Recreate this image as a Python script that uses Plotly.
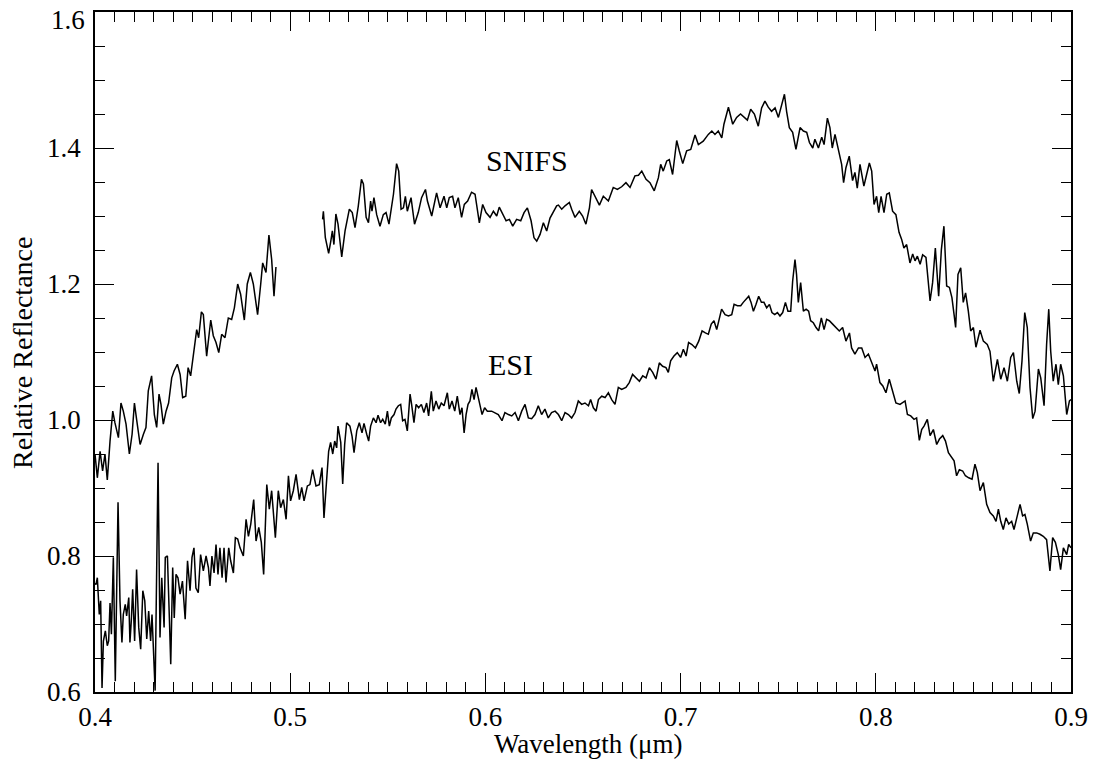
import plotly.graph_objects as go

# SNIFS spectrum, blue segment (wavelength um, relative reflectance)
snifs_blue = [
    (0.4000, 0.950), (0.4012, 0.915), (0.4026, 0.954), (0.4039, 0.925), (0.4051, 0.950),
    (0.4063, 0.912), (0.4077, 0.969), (0.4091, 1.013), (0.4102, 0.996), (0.4120, 0.974),
    (0.4133, 1.025), (0.4145, 1.013), (0.4159, 0.994), (0.4176, 0.950), (0.4190, 0.979),
    (0.4202, 1.025), (0.4214, 0.999), (0.4231, 0.964), (0.4248, 0.979), (0.4261, 0.989),
    (0.4273, 1.043), (0.4290, 1.065), (0.4304, 1.008), (0.4316, 0.989), (0.4328, 1.038),
    (0.4338, 1.023), (0.4350, 0.994), (0.4364, 1.013), (0.4377, 1.025), (0.4393, 1.062),
    (0.4405, 1.072), (0.4422, 1.082), (0.4436, 1.067), (0.4449, 1.033), (0.4465, 1.035),
    (0.4477, 1.077), (0.4490, 1.065), (0.4507, 1.104), (0.4521, 1.133), (0.4531, 1.121),
    (0.4545, 1.159), (0.4555, 1.155), (0.4572, 1.094), (0.4593, 1.147), (0.4606, 1.124),
    (0.4620, 1.114), (0.4634, 1.099), (0.4649, 1.126), (0.4666, 1.121), (0.4683, 1.150),
    (0.4700, 1.148), (0.4714, 1.165), (0.4731, 1.200), (0.4746, 1.185), (0.4765, 1.147),
    (0.4780, 1.200), (0.4796, 1.217), (0.4811, 1.200), (0.4833, 1.155), (0.4849, 1.200),
    (0.4859, 1.231), (0.4876, 1.217), (0.4891, 1.272), (0.4905, 1.236), (0.4917, 1.182),
    (0.4927, 1.225),
]

# SNIFS spectrum, red segment
snifs_red = [
    (0.5166, 1.295), (0.5170, 1.307), (0.5180, 1.268), (0.5197, 1.245), (0.5208, 1.263),
    (0.5216, 1.278), (0.5224, 1.258), (0.5234, 1.303), (0.5245, 1.288), (0.5264, 1.240),
    (0.5281, 1.278), (0.5303, 1.310), (0.5318, 1.305), (0.5332, 1.283), (0.5349, 1.315),
    (0.5365, 1.354), (0.5375, 1.347), (0.5389, 1.298), (0.5401, 1.290), (0.5412, 1.322),
    (0.5419, 1.307), (0.5429, 1.327), (0.5443, 1.302), (0.5460, 1.285), (0.5477, 1.302),
    (0.5491, 1.305), (0.5506, 1.288), (0.5529, 1.332), (0.5545, 1.377), (0.5556, 1.366),
    (0.5568, 1.310), (0.5580, 1.312), (0.5590, 1.329), (0.5600, 1.307), (0.5619, 1.327),
    (0.5637, 1.288), (0.5656, 1.305), (0.5673, 1.327), (0.5693, 1.339), (0.5703, 1.322),
    (0.5725, 1.300), (0.5750, 1.334), (0.5768, 1.312), (0.5788, 1.329), (0.5802, 1.312),
    (0.5815, 1.327), (0.5832, 1.329), (0.5844, 1.312), (0.5861, 1.327), (0.5878, 1.298),
    (0.5892, 1.317), (0.5909, 1.322), (0.5929, 1.335), (0.5947, 1.332), (0.5969, 1.290),
    (0.5986, 1.317), (0.6003, 1.305), (0.6024, 1.298), (0.6041, 1.307), (0.6058, 1.300),
    (0.6071, 1.313), (0.6089, 1.302), (0.6106, 1.293), (0.6123, 1.295), (0.6140, 1.285),
    (0.6160, 1.295), (0.6181, 1.293), (0.6198, 1.305), (0.6215, 1.312), (0.6234, 1.293),
    (0.6249, 1.268), (0.6263, 1.263), (0.6280, 1.273), (0.6297, 1.290), (0.6314, 1.278),
    (0.6331, 1.297), (0.6348, 1.307), (0.6365, 1.315), (0.6374, 1.316), (0.6391, 1.310),
    (0.6408, 1.315), (0.6430, 1.320), (0.6442, 1.310), (0.6459, 1.298), (0.6481, 1.307),
    (0.6498, 1.300), (0.6515, 1.288), (0.6533, 1.312), (0.6544, 1.339), (0.6561, 1.329),
    (0.6584, 1.316), (0.6604, 1.329), (0.6630, 1.322), (0.6655, 1.342), (0.6676, 1.339),
    (0.6698, 1.343), (0.6720, 1.349), (0.6741, 1.342), (0.6766, 1.359), (0.6784, 1.360),
    (0.6801, 1.366), (0.6823, 1.354), (0.6843, 1.349), (0.6865, 1.337), (0.6886, 1.356),
    (0.6898, 1.376), (0.6911, 1.366), (0.6929, 1.381), (0.6942, 1.383), (0.6959, 1.361),
    (0.6980, 1.411), (0.6993, 1.396), (0.7011, 1.377), (0.7031, 1.396), (0.7052, 1.398),
    (0.7074, 1.419), (0.7091, 1.405), (0.7116, 1.410), (0.7142, 1.420), (0.7160, 1.425),
    (0.7176, 1.420), (0.7193, 1.425), (0.7211, 1.415), (0.7222, 1.435), (0.7245, 1.460),
    (0.7267, 1.435), (0.7287, 1.445), (0.7307, 1.450), (0.7325, 1.445), (0.7342, 1.441),
    (0.7359, 1.457), (0.7378, 1.450), (0.7398, 1.432), (0.7415, 1.459), (0.7432, 1.469),
    (0.7449, 1.460), (0.7466, 1.454), (0.7484, 1.459), (0.7501, 1.445), (0.7518, 1.462),
    (0.7532, 1.479), (0.7543, 1.454), (0.7557, 1.430), (0.7574, 1.423), (0.7591, 1.398),
    (0.7612, 1.430), (0.7629, 1.425), (0.7646, 1.423), (0.7660, 1.408), (0.7677, 1.400),
    (0.7688, 1.413), (0.7706, 1.400), (0.7723, 1.416), (0.7735, 1.405), (0.7752, 1.444),
    (0.7765, 1.430), (0.7777, 1.400), (0.7791, 1.420), (0.7808, 1.398), (0.7825, 1.376),
    (0.7835, 1.349), (0.7847, 1.371), (0.7864, 1.388), (0.7881, 1.352), (0.7893, 1.364),
    (0.7905, 1.341), (0.7919, 1.376), (0.7939, 1.344), (0.7953, 1.361), (0.7967, 1.378),
    (0.7979, 1.366), (0.7991, 1.317), (0.8004, 1.329), (0.8015, 1.305), (0.8027, 1.329),
    (0.8042, 1.305), (0.8056, 1.332), (0.8069, 1.334), (0.8086, 1.307), (0.8103, 1.302),
    (0.8119, 1.276), (0.8132, 1.266), (0.8144, 1.253), (0.8158, 1.258), (0.8175, 1.231),
    (0.8189, 1.244), (0.8201, 1.234), (0.8213, 1.241), (0.8227, 1.229), (0.8240, 1.243),
    (0.8257, 1.239), (0.8278, 1.175), (0.8291, 1.202), (0.8305, 1.253), (0.8322, 1.182),
    (0.8336, 1.251), (0.8349, 1.285), (0.8363, 1.197), (0.8377, 1.195), (0.8390, 1.180),
    (0.8401, 1.155), (0.8409, 1.136), (0.8421, 1.214), (0.8435, 1.224), (0.8448, 1.173),
    (0.8460, 1.187), (0.8474, 1.160), (0.8486, 1.131), (0.8500, 1.136), (0.8513, 1.107),
    (0.8534, 1.132), (0.8551, 1.116), (0.8571, 1.111), (0.8585, 1.101), (0.8602, 1.057),
    (0.8623, 1.089), (0.8640, 1.060), (0.8657, 1.077), (0.8674, 1.057), (0.8691, 1.092),
    (0.8705, 1.099), (0.8722, 1.057), (0.8735, 1.039), (0.8749, 1.087), (0.8763, 1.158),
    (0.8776, 1.136), (0.8790, 1.048), (0.8804, 1.002), (0.8816, 1.013), (0.8833, 1.075),
    (0.8845, 1.062), (0.8862, 1.021), (0.8875, 1.111), (0.8886, 1.163), (0.8896, 1.101),
    (0.8909, 1.057), (0.8923, 1.082), (0.8935, 1.052), (0.8947, 1.082), (0.8961, 1.065),
    (0.8978, 1.008), (0.8992, 1.028), (0.9000, 1.030),
]

# ESI spectrum
esi = [
    (0.4000, 0.760), (0.4005, 0.758), (0.4012, 0.768), (0.4022, 0.714), (0.4029, 0.734),
    (0.4036, 0.606), (0.4043, 0.675), (0.4053, 0.690), (0.4063, 0.668), (0.4070, 0.675),
    (0.4077, 0.731), (0.4084, 0.685), (0.4094, 0.798), (0.4104, 0.616), (0.4118, 0.879),
    (0.4128, 0.734), (0.4138, 0.673), (0.4145, 0.714), (0.4155, 0.729), (0.4162, 0.712),
    (0.4173, 0.739), (0.4179, 0.673), (0.4186, 0.705), (0.4193, 0.751), (0.4203, 0.675),
    (0.4213, 0.780), (0.4224, 0.695), (0.4234, 0.663), (0.4245, 0.749), (0.4255, 0.734),
    (0.4265, 0.678), (0.4275, 0.719), (0.4285, 0.675), (0.4292, 0.714), (0.4299, 0.665),
    (0.4308, 0.602), (0.4323, 0.937), (0.4333, 0.680), (0.4342, 0.768), (0.4354, 0.695),
    (0.4360, 0.798), (0.4371, 0.800), (0.4381, 0.709), (0.4388, 0.641), (0.4398, 0.783),
    (0.4406, 0.709), (0.4415, 0.773), (0.4425, 0.768), (0.4436, 0.744), (0.4448, 0.763),
    (0.4462, 0.707), (0.4474, 0.793), (0.4487, 0.749), (0.4497, 0.798), (0.4507, 0.812),
    (0.4517, 0.753), (0.4529, 0.746), (0.4541, 0.802), (0.4555, 0.778), (0.4569, 0.800),
    (0.4581, 0.783), (0.4589, 0.756), (0.4599, 0.800), (0.4610, 0.775), (0.4620, 0.817),
    (0.4630, 0.773), (0.4640, 0.812), (0.4651, 0.768), (0.4661, 0.812), (0.4671, 0.761),
    (0.4685, 0.812), (0.4695, 0.793), (0.4709, 0.775), (0.4719, 0.827), (0.4731, 0.825),
    (0.4743, 0.812), (0.4760, 0.800), (0.4774, 0.854), (0.4786, 0.829), (0.4798, 0.847),
    (0.4813, 0.883), (0.4825, 0.822), (0.4839, 0.842), (0.4852, 0.820), (0.4864, 0.773),
    (0.4880, 0.905), (0.4893, 0.869), (0.4905, 0.896), (0.4924, 0.827), (0.4939, 0.896),
    (0.4951, 0.871), (0.4965, 0.883), (0.4979, 0.854), (0.4991, 0.918), (0.5002, 0.881),
    (0.5016, 0.896), (0.5030, 0.920), (0.5047, 0.883), (0.5059, 0.901), (0.5071, 0.881),
    (0.5088, 0.903), (0.5101, 0.905), (0.5115, 0.927), (0.5132, 0.903), (0.5149, 0.905),
    (0.5163, 0.930), (0.5173, 0.856), (0.5187, 0.915), (0.5197, 0.954), (0.5207, 0.967),
    (0.5218, 0.950), (0.5228, 0.969), (0.5238, 0.959), (0.5245, 0.991), (0.5259, 0.967),
    (0.5269, 0.906), (0.5279, 0.964), (0.5289, 0.996), (0.5306, 0.991), (0.5317, 0.976),
    (0.5327, 0.952), (0.5341, 0.984), (0.5354, 0.996), (0.5368, 0.981), (0.5378, 0.995),
    (0.5392, 0.979), (0.5402, 0.969), (0.5412, 0.991), (0.5426, 1.003), (0.5440, 0.996),
    (0.5450, 1.007), (0.5463, 0.996), (0.5474, 1.001), (0.5487, 0.994), (0.5498, 1.013),
    (0.5508, 0.991), (0.5518, 1.003), (0.5532, 1.008), (0.5542, 1.016), (0.5554, 1.021),
    (0.5566, 1.023), (0.5576, 0.999), (0.5588, 1.001), (0.5600, 0.984), (0.5614, 1.038),
    (0.5622, 1.023), (0.5634, 0.996), (0.5645, 1.023), (0.5658, 1.018), (0.5672, 1.023),
    (0.5685, 1.011), (0.5699, 1.025), (0.5709, 1.006), (0.5723, 1.042), (0.5733, 1.013),
    (0.5747, 1.028), (0.5761, 1.016), (0.5774, 1.025), (0.5788, 1.021), (0.5805, 1.040),
    (0.5815, 1.016), (0.5829, 1.028), (0.5843, 1.013), (0.5856, 1.035), (0.5870, 1.008),
    (0.5880, 1.018), (0.5891, 0.981), (0.5901, 1.008), (0.5911, 1.023), (0.5921, 1.028),
    (0.5931, 1.045), (0.5942, 1.030), (0.5952, 1.048), (0.5962, 1.035), (0.5972, 1.021),
    (0.5983, 1.008), (0.5996, 1.018), (0.6010, 1.013), (0.6032, 1.013), (0.6049, 1.011),
    (0.6066, 1.008), (0.6085, 0.999), (0.6100, 1.011), (0.6118, 1.008), (0.6135, 1.006),
    (0.6152, 1.011), (0.6169, 0.999), (0.6186, 1.013), (0.6203, 1.023), (0.6220, 1.003),
    (0.6237, 1.002), (0.6254, 1.008), (0.6271, 1.021), (0.6288, 1.008), (0.6305, 1.016),
    (0.6322, 1.003), (0.6339, 1.011), (0.6357, 1.013), (0.6374, 1.008), (0.6391, 0.999),
    (0.6408, 1.011), (0.6425, 1.008), (0.6442, 1.003), (0.6459, 1.011), (0.6476, 1.028),
    (0.6493, 1.023), (0.6510, 1.025), (0.6528, 1.021), (0.6539, 1.030), (0.6553, 1.018),
    (0.6567, 1.013), (0.6579, 1.030), (0.6596, 1.035), (0.6613, 1.033), (0.6630, 1.040),
    (0.6647, 1.030), (0.6664, 1.023), (0.6681, 1.048), (0.6698, 1.045), (0.6720, 1.048),
    (0.6737, 1.055), (0.6754, 1.067), (0.6771, 1.062), (0.6789, 1.057), (0.6806, 1.065),
    (0.6823, 1.062), (0.6840, 1.077), (0.6857, 1.070), (0.6874, 1.060), (0.6891, 1.084),
    (0.6908, 1.079), (0.6925, 1.077), (0.6937, 1.070), (0.6949, 1.087), (0.6966, 1.094),
    (0.6983, 1.099), (0.7000, 1.092), (0.7014, 1.104), (0.7028, 1.094), (0.7041, 1.114),
    (0.7058, 1.111), (0.7076, 1.106), (0.7093, 1.116), (0.7110, 1.131), (0.7127, 1.128),
    (0.7142, 1.126), (0.7157, 1.141), (0.7171, 1.146), (0.7185, 1.133), (0.7198, 1.150),
    (0.7210, 1.163), (0.7228, 1.155), (0.7245, 1.153), (0.7262, 1.155), (0.7274, 1.170),
    (0.7291, 1.168), (0.7308, 1.168), (0.7321, 1.173), (0.7335, 1.177), (0.7349, 1.182),
    (0.7361, 1.173), (0.7373, 1.160), (0.7386, 1.170), (0.7400, 1.182), (0.7414, 1.173),
    (0.7427, 1.173), (0.7441, 1.165), (0.7455, 1.170), (0.7468, 1.158), (0.7482, 1.155),
    (0.7496, 1.158), (0.7509, 1.153), (0.7523, 1.158), (0.7537, 1.173), (0.7550, 1.160),
    (0.7564, 1.160), (0.7574, 1.204), (0.7586, 1.236), (0.7594, 1.214), (0.7603, 1.173),
    (0.7615, 1.202), (0.7629, 1.160), (0.7643, 1.163), (0.7656, 1.160), (0.7666, 1.146),
    (0.7680, 1.143), (0.7694, 1.136), (0.7707, 1.131), (0.7721, 1.150), (0.7735, 1.133),
    (0.7748, 1.148), (0.7762, 1.146), (0.7779, 1.141), (0.7796, 1.136), (0.7813, 1.131),
    (0.7830, 1.136), (0.7847, 1.116), (0.7865, 1.128), (0.7876, 1.106), (0.7893, 1.097),
    (0.7911, 1.106), (0.7928, 1.106), (0.7945, 1.092), (0.7962, 1.097), (0.7979, 1.084),
    (0.7996, 1.072), (0.8004, 1.082), (0.8021, 1.055), (0.8036, 1.050), (0.8052, 1.040),
    (0.8069, 1.060), (0.8086, 1.043), (0.8103, 1.025), (0.8124, 1.023), (0.8150, 1.028),
    (0.8162, 1.008), (0.8179, 1.006), (0.8196, 1.001), (0.8209, 1.003), (0.8223, 0.970),
    (0.8235, 0.986), (0.8247, 0.991), (0.8264, 1.001), (0.8278, 0.977), (0.8295, 0.986),
    (0.8312, 0.964), (0.8326, 0.972), (0.8343, 0.977), (0.8357, 0.969), (0.8372, 0.952),
    (0.8389, 0.945), (0.8401, 0.940), (0.8414, 0.918), (0.8428, 0.927), (0.8445, 0.925),
    (0.8459, 0.918), (0.8476, 0.915), (0.8493, 0.913), (0.8508, 0.935), (0.8520, 0.923),
    (0.8534, 0.896), (0.8551, 0.908), (0.8568, 0.876), (0.8585, 0.864), (0.8602, 0.859),
    (0.8616, 0.851), (0.8628, 0.869), (0.8640, 0.851), (0.8653, 0.839), (0.8667, 0.856),
    (0.8681, 0.847), (0.8696, 0.851), (0.8708, 0.839), (0.8722, 0.856), (0.8739, 0.876),
    (0.8752, 0.859), (0.8764, 0.861), (0.8776, 0.847), (0.8793, 0.822), (0.8807, 0.834),
    (0.8824, 0.834), (0.8841, 0.832), (0.8858, 0.829), (0.8875, 0.824), (0.8892, 0.778),
    (0.8906, 0.827), (0.8920, 0.820), (0.8935, 0.802), (0.8947, 0.780), (0.8961, 0.812),
    (0.8978, 0.802), (0.8988, 0.817), (0.9000, 0.812),
]

labels = [("SNIFS", 0.6213, 1.382), ("ESI", 0.6126, 1.082)]
x_ticks = [0.4, 0.5, 0.6, 0.7, 0.8, 0.9]
y_ticks = [0.6, 0.8, 1.0, 1.2, 1.4, 1.6]

FONT = "Liberation Serif"
line = dict(color="black", width=1.5)

fig = go.Figure()
for seg in (snifs_blue, snifs_red, esi):
    xs, ys = zip(*seg)
    fig.add_trace(go.Scatter(x=list(xs), y=list(ys), mode="lines", line=line,
                             showlegend=False, hoverinfo="skip"))

for text, lx, ly in labels:
    fig.add_annotation(x=lx, y=ly, text=text, showarrow=False,
                       font=dict(family=FONT, size=30, color="black"))

axis_common = dict(
    showgrid=False, zeroline=False, showline=True, linecolor="black", linewidth=1.5,
    mirror="allticks", ticks="inside", ticklen=19, tickwidth=1.2, tickcolor="black",
    tickfont=dict(family=FONT, size=27, color="black"),
    tickmode="array",
)

fig.update_xaxes(range=[0.4, 0.9], tickvals=x_ticks, ticktext=[f"{v:.1f}" for v in x_ticks],
                 minor=dict(tick0=0.4, dtick=0.01, ticklen=10, ticks="inside",
                            tickcolor="black", tickwidth=1),
                 ticklabelstandoff=0, ticklabeloverflow="allow", **axis_common)
# top label (1.6) is drawn as an annotation, nudged down like in the reference
y_text = [f"{v:.1f}" for v in y_ticks[:-1]] + [""]
fig.update_yaxes(range=[0.6, 1.6], tickvals=y_ticks, ticktext=y_text,
                 minor=dict(tick0=0.6, dtick=0.05, ticklen=10, ticks="inside",
                            tickcolor="black", tickwidth=1),
                 ticklabelstandoff=7, **axis_common)
fig.add_annotation(xref="paper", yref="paper", x=-(95 - 87) / 976, y=1 - (20 - 12) / 680,
                   text=f"{y_ticks[-1]:.1f}", showarrow=False, xanchor="right", yanchor="middle",
                   font=dict(family=FONT, size=27, color="black"))

fig.add_annotation(xref="paper", yref="paper", x=(588 - 95) / 976, y=-(744 - 692) / 680,
                   text="Wavelength (μm)", showarrow=False, yanchor="middle",
                   font=dict(family=FONT, size=27, color="black"))
fig.add_annotation(xref="paper", yref="paper", x=-(95 - 22) / 976, y=(692 - 353) / 680,
                   text="Relative Reflectance", showarrow=False, textangle=-90,
                   xanchor="center", yanchor="middle",
                   font=dict(family=FONT, size=28, color="black"))

fig.update_layout(
    width=1094, height=763,
    margin=dict(l=95, r=23, t=12, b=71, autoexpand=False),
    paper_bgcolor="white", plot_bgcolor="white",
)

fig.write_html("out.html")
